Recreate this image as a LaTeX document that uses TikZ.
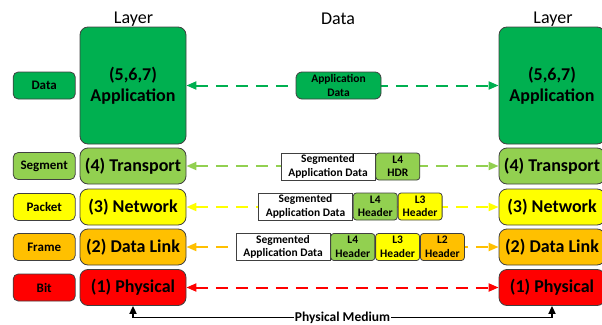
\documentclass[tikz,border=0pt]{standalone}
\usepackage{fontspec}
\setmainfont{Carlito}
\usetikzlibrary{positioning,arrows.meta}

\definecolor{appgreen}{HTML}{00B050}
\definecolor{trgreen}{HTML}{92D050}
\definecolor{netyellow}{HTML}{FFFF00}
\definecolor{linkorange}{HTML}{FFC000}
\definecolor{phyred}{HTML}{FF0000}
\definecolor{edgegray}{HTML}{404040}

\tikzset{
  layerbox/.style={draw=edgegray, line width=0.8pt, rounded corners=8pt, minimum width=106pt,
    minimum height=36pt, align=center, inner sep=0pt, font=\fontsize{18}{21}\selectfont\bfseries},
  unitbox/.style={draw=edgegray, line width=0.8pt, rounded corners=5pt, minimum width=62pt,
    minimum height=27pt, inner sep=0pt, font=\fontsize{13}{15}\selectfont\bfseries},
  payload/.style={draw=edgegray, fill=white, line width=0.8pt, minimum width=94pt, minimum height=27pt,
    align=center, inner sep=0pt, font=\fontsize{11.5}{13.5}\selectfont\bfseries},
  hdrbox/.style={draw=edgegray, line width=0.8pt, rounded corners=3pt, minimum width=44pt, minimum height=27pt,
    align=center, inner sep=0pt, font=\fontsize{11.5}{13.5}\selectfont\bfseries},
  peer/.style={dash pattern=on 12pt off 8pt, line width=2pt,
    {Triangle[length=10pt,width=8pt]}-{Triangle[length=10pt,width=8pt]}},
  medium/.style={line width=1.8pt, {Triangle[length=8pt,width=7pt]}-{Triangle[length=8pt,width=7pt]}},
  heading/.style={font=\fontsize{18}{20}\selectfont}
}

\begin{document}
\begin{tikzpicture}[x=1pt, y=-1pt]
  \useasboundingbox (0,0) rectangle (602,324);

  % headings
  \node[heading] (layL) at (133.5,19) {Layer};
  \node[heading] (dat) at (338,19) {Data};
  \node[heading] (layR) at (553,19) {Layer};

  % layers, left side
  \node[layerbox, fill=appgreen, minimum height=117pt] (appL) at (133,85.5) {(5,6,7)\\Application};
  \node[layerbox, fill=trgreen] (trL) at (133,166) {(4) Transport};
  \node[layerbox, fill=netyellow] (netL) at (133,207) {(3) Network};
  \node[layerbox, fill=linkorange] (dlL) at (133,247) {(2) Data Link};
  \node[layerbox, fill=phyred] (phL) at (133,287.5) {(1) Physical};

  % layers, right side
  \node[layerbox, fill=appgreen, minimum height=117pt] (appR) at (552,85.5) {(5,6,7)\\Application};
  \node[layerbox, fill=trgreen] (trR) at (552,166) {(4) Transport};
  \node[layerbox, fill=netyellow] (netR) at (552,207) {(3) Network};
  \node[layerbox, fill=linkorange] (dlR) at (552,247) {(2) Data Link};
  \node[layerbox, fill=phyred] (phR) at (552,287.5) {(1) Physical};

  % data units
  \node[unitbox, fill=appgreen, left=4pt of appL] (uData) {Data};
  \node[unitbox, fill=trgreen, left=4pt of trL] (uSeg) {Segment};
  \node[unitbox, fill=netyellow, left=4pt of netL] (uPkt) {Packet};
  \node[unitbox, fill=linkorange, left=4pt of dlL] (uFrm) {Frame};
  \node[unitbox, fill=phyred, left=4pt of phL] (uBit) {Bit};

  % peer links
  \draw[peer, appgreen] (appL) -- (appR);
  \draw[peer, trgreen] (trL) -- (trR);
  \draw[peer, netyellow] (netL) -- (netR);
  \draw[peer, linkorange] (dlL) -- (dlR);
  \draw[peer, phyred] (phL) -- (phR);

  % encapsulation
  \node[hdrbox, fill=appgreen, rounded corners=6pt, minimum width=85pt] (appData) at (338.5,85.5) {Application\\Data};

  \node[payload] (segData) at (328,166.5) {Segmented\\Application Data};
  \node[hdrbox, fill=trgreen, right=0pt of segData] (segL4) {L4\\HDR};

  \node[payload] (pktData) at (305.5,206.5) {Segmented\\Application Data};
  \node[hdrbox, fill=trgreen, right=0pt of pktData] (pktL4) {L4\\Header};
  \node[hdrbox, fill=netyellow, right=0pt of pktL4] (pktL3) {L3\\Header};

  \node[payload] (frmData) at (283,247) {Segmented\\Application Data};
  \node[hdrbox, fill=trgreen, right=0pt of frmData] (frmL4) {L4\\Header};
  \node[hdrbox, fill=netyellow, right=0pt of frmL4] (frmL3) {L3\\Header};
  \node[hdrbox, fill=linkorange, right=0pt of frmL3] (frmL2) {L2\\Header};

  % physical medium
  \draw[medium] (phL.south) -- ++(0,11.5) coordinate (medL) -- (medL -| phR.south)
    node[midway, fill=white, inner sep=0.5pt, font=\fontsize{13.5}{15}\selectfont\bfseries] {Physical Medium}
    -- (phR.south);
\end{tikzpicture}
\end{document}
